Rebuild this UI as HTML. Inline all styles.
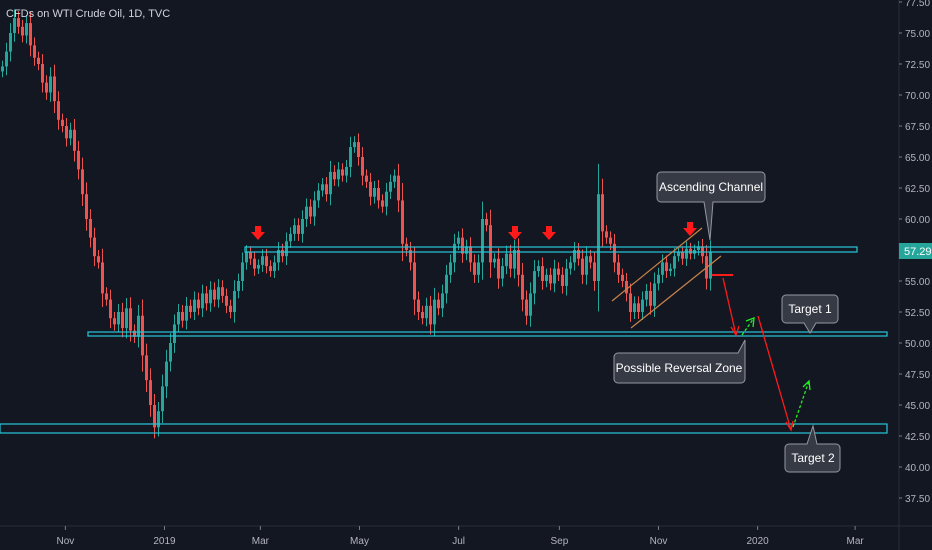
<!DOCTYPE html>
<html><head><meta charset="utf-8"><style>
html,body{margin:0;padding:0;background:#131722;}
svg{display:block;font-family:"Liberation Sans",sans-serif;}
</style></head><body>
<svg id="chart" width="932" height="550" viewBox="0 0 932 550" xmlns="http://www.w3.org/2000/svg">
<rect x="0" y="0" width="932" height="550" fill="#131722"/>
<g id="candles"></g>
<g id="overlays">
  <rect x="245" y="247" width="612" height="5" fill="none" stroke="#26c6da" stroke-width="1.2"/>
  <rect x="88" y="332" width="799" height="4" fill="none" stroke="#26c6da" stroke-width="1.2"/>
  <rect x="0" y="424" width="887" height="9" fill="none" stroke="#26c6da" stroke-width="1.2"/>
  <line x1="612" y1="301" x2="702" y2="228" stroke="#c8834a" stroke-width="1.2"/>
  <line x1="631" y1="328" x2="721" y2="256" stroke="#c8834a" stroke-width="1.2"/>
  <g fill="#ff1a1a">
    <path d="M255,226 h6 v6 h4 l-7,8 l-7,-8 h4z"/>
    <path d="M512,226 h6 v6 h4 l-7,8 l-7,-8 h4z"/>
    <path d="M546,226 h6 v6 h4 l-7,8 l-7,-8 h4z"/>
    <path d="M687,222 h6 v6 h4 l-7,8 l-7,-8 h4z"/>
  </g>
  <line x1="712" y1="275" x2="733" y2="275" stroke="#ff1a1a" stroke-width="2"/>
  <g stroke="#ff1a1a" stroke-width="1.3" fill="none">
    <line x1="723" y1="278" x2="736" y2="335"/>
    <polyline points="731,327 736,335 739,326"/>
  </g>
  <g stroke="#ff1a1a" stroke-width="1.3" fill="none">
    <line x1="758" y1="316" x2="791" y2="430"/>
    <polyline points="786,422 791,430 793,421"/>
  </g>
  <g stroke="#22ee22" stroke-width="1.3" fill="none" stroke-dasharray="3,2">
    <line x1="742" y1="335" x2="754" y2="318"/>
    <polyline points="746,321 754,318 753,327" stroke-dasharray="none"/>
  </g>
  <g stroke="#22ee22" stroke-width="1.3" fill="none" stroke-dasharray="3,2">
    <line x1="793" y1="427" x2="809" y2="381"/>
    <polyline points="803,387 809,381 810,390" stroke-dasharray="none"/>
  </g>
  <g>
    <path d="M661,172 h100 a4,4 0 0 1 4,4 v22 a4,4 0 0 1 -4,4 h-48 l-3,38 l-6,-38 h-43 a4,4 0 0 1 -4,-4 v-22 a4,4 0 0 1 4,-4z" fill="#363a45" stroke="#9598a1" stroke-width="1"/>
    <text x="711" y="191" fill="#ffffff" font-size="12" text-anchor="middle">Ascending Channel</text>
  </g>
  <g>
    <path d="M786,295 h48 a4,4 0 0 1 4,4 v20 a4,4 0 0 1 -4,4 h-18 l-6,10 l-6,-10 h-18 a4,4 0 0 1 -4,-4 v-20 a4,4 0 0 1 4,-4z" fill="#363a45" stroke="#9598a1" stroke-width="1"/>
    <text x="810" y="313" fill="#ffffff" font-size="12" text-anchor="middle">Target 1</text>
  </g>
  <g>
    <path d="M618,353 h120 l7,-13 v39 a4,4 0 0 1 -4,4 h-123 a4,4 0 0 1 -4,-4 v-22 a4,4 0 0 1 4,-4z" fill="#363a45" stroke="#9598a1" stroke-width="1"/>
    <text x="679" y="372" fill="#ffffff" font-size="12" text-anchor="middle">Possible Reversal Zone</text>
  </g>
  <g>
    <path d="M789,444 h18 l6,-18 l4,18 h19 a4,4 0 0 1 4,4 v20 a4,4 0 0 1 -4,4 h-47 a4,4 0 0 1 -4,-4 v-20 a4,4 0 0 1 4,-4z" fill="#363a45" stroke="#9598a1" stroke-width="1"/>
    <text x="813" y="462" fill="#ffffff" font-size="12" text-anchor="middle">Target 2</text>
  </g>
</g>
<line x1="0" y1="526" x2="932" y2="526" stroke="#2a2e39" stroke-width="1"/>
<line x1="899" y1="0" x2="899" y2="550" stroke="#2a2e39" stroke-width="1"/>
<g id="yaxis"></g>
<g id="xaxis"></g>
<g>
  <rect x="899" y="243" width="33" height="16" fill="#26a69a"/>
  <text x="904" y="255" fill="#ffffff" font-size="11">57.29</text>
</g>
<text x="6" y="17" fill="#d1d4dc" font-size="11">CFDs on WTI Crude Oil, 1D, TVC</text>
</svg>
<script>
const closes = [
72.3,73.5,75,76.2,75.5,74.8,75.8,74,73,72.5,
71,70.2,71.5,69.5,68,67.5,66.5,67.2,65.5,64,
62,60,58.5,57,56.5,54,53.5,52,51.5,52.5,
51.2,52.8,51,50.5,52.2,49,47,45,43.2,44.5,
46.5,48.5,50,51.5,52.5,51.8,53,52.5,53.5,52.8,
54,53.2,54.3,53.5,54.5,53.8,53,52.5,54.2,55,
56.5,57.3,56.8,56,56.3,57,56.2,55.8,56.5,57.5,
57,58.2,58.8,59.5,58.8,60,61,60.2,61.5,62.3,
62.8,62,63.8,63.2,64,63.5,64.2,65.8,66.2,65,
63.5,63,61.8,62.5,61.5,61,62.2,63,63.5,61.5,
58,57.5,56.5,53.5,52.5,52,53,51.5,53.5,52.8,
54,55.5,56.5,58,58.5,57.2,57.8,56.5,55.5,56.5,
60,59.5,56.5,56.8,55.2,56.2,57.2,56,57.5,55.5,
53.5,52.2,54,55.8,56.2,55,55.5,54.8,56,55.5,
54.6,56,56.5,57.5,56.8,55.5,57,56.5,55,62,
59,58.5,58,56.5,55.5,55,54,52.5,53.2,52.5,
53.5,54.2,53,54.8,55.5,56.5,55.8,56,57,57.3,
56.8,57.6,57.2,57.5,57.8,57,55.2,57.3
];
const priceTicks = [37.5,40,42.5,45,47.5,50,52.5,55,57.5,60,62.5,65,67.5,70,72.5,75,77.5];
const timeLabels = ["Nov","2019","Mar","May","Jul","Sep","Nov","2020","Mar"];
const timeDays = [31,92,151,212,273,335,396,457,517];

const NS="http://www.w3.org/2000/svg";
function yScale(p){return 343-(p-50)*12.4;}
function xIndex(i){return 1+i*4;}
function xDay(d){return 15+d*1.625;}

const cg=document.getElementById('candles');
for(let i=0;i<closes.length;i++){
  const c=closes[i];
  const o=i===0?closes[0]-0.4:closes[i-1];
  const w=0.35+Math.abs(c-o)*0.3;
  const hi=Math.max(o,c)+w, lo=Math.min(o,c)-w;
  const col=c>=o?'#26a69a':'#ef5350';
  const x=xIndex(i);
  const g=document.createElementNS(NS,'g');
  
  
  const wk=document.createElementNS(NS,'line');
  wk.setAttribute('x1',x+1.5);wk.setAttribute('x2',x+1.5);
  wk.setAttribute('y1',yScale(hi));wk.setAttribute('y2',yScale(lo));
  wk.setAttribute('stroke',col);wk.setAttribute('stroke-width','1');
  g.appendChild(wk);
  const b=document.createElementNS(NS,'rect');
  const top=yScale(Math.max(o,c));
  b.setAttribute('x',x);b.setAttribute('y',top);b.setAttribute('width',3);
  b.setAttribute('height',Math.max(1,yScale(Math.min(o,c))-top));
  b.setAttribute('fill',col);
  g.appendChild(b);
  cg.appendChild(g);
}
const ya=document.getElementById('yaxis');
priceTicks.forEach(p=>{
  const y=yScale(p);
  const t=document.createElementNS(NS,'text');
  
  
  t.setAttribute('x',905);t.setAttribute('y',y+4);
  t.setAttribute('fill','#b2b5be');t.setAttribute('font-size','10');
  t.textContent=p.toFixed(2);
  ya.appendChild(t);
  const l=document.createElementNS(NS,'line');
  
  
  l.setAttribute('x1',899);l.setAttribute('x2',902);l.setAttribute('y1',y);l.setAttribute('y2',y);
  l.setAttribute('stroke','#787b86');
  ya.appendChild(l);
});
const xa=document.getElementById('xaxis');
timeLabels.forEach((s,i)=>{
  const x=xDay(timeDays[i]);
  const t=document.createElementNS(NS,'text');
  
  
  t.setAttribute('x',x);t.setAttribute('y',544);t.setAttribute('text-anchor','middle');
  t.setAttribute('fill','#b2b5be');t.setAttribute('font-size','10');
  t.textContent=s;
  xa.appendChild(t);
  const l=document.createElementNS(NS,'line');
  
  
  l.setAttribute('x1',x);l.setAttribute('x2',x);l.setAttribute('y1',526);l.setAttribute('y2',530);
  l.setAttribute('stroke','#787b86');
  xa.appendChild(l);
});
</script>
</body></html>
